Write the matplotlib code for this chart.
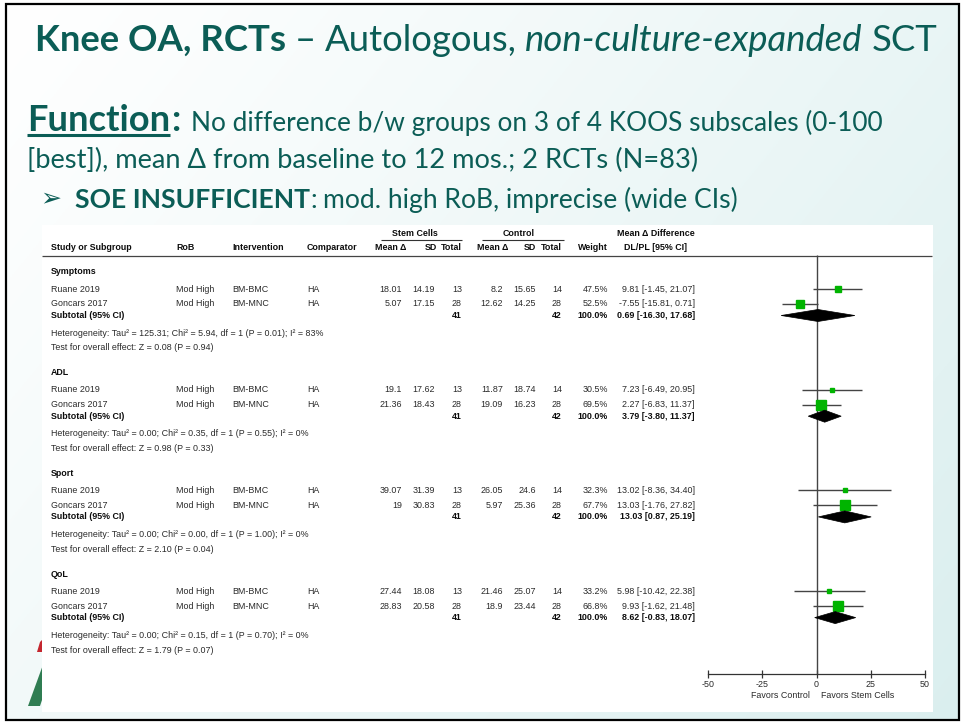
import numpy as np
import matplotlib
matplotlib.use("Agg")
import matplotlib.pyplot as plt
from matplotlib.patches import Polygon, Rectangle

plt.rcParams['axes.unicode_minus'] = False

W, H = 966, 723

# ---------------- data ----------------
subgroups = ["Symptoms", "ADL", "Sport", "QoL"]
studies = ["Ruane 2019", "Goncars 2017"]
rob = ["Mod High", "Mod High"]
intervention = ["BM-BMC", "BM-MNC"]
comparator = ["HA", "HA"]

sc_mean = [[18.01, 5.07], [19.1, 21.36], [39.07, 19], [27.44, 28.83]]
sc_sd = [[14.19, 17.15], [17.62, 18.43], [31.39, 30.83], [18.08, 20.58]]
sc_n = [13, 28]
ct_mean = [[8.2, 12.62], [11.87, 19.09], [26.05, 5.97], [21.46, 18.9]]
ct_sd = [[15.65, 14.25], [18.74, 16.23], [24.6, 25.36], [25.07, 23.44]]
ct_n = [14, 28]
weights = [[47.5, 52.5], [30.5, 69.5], [32.3, 67.7], [33.2, 66.8]]
md = [[9.81, -7.55], [7.23, 2.27], [13.02, 13.03], [5.98, 9.93]]
md_lo = [[-1.45, -15.81], [-6.49, -6.83], [-8.36, -1.76], [-10.42, -1.62]]
md_hi = [[21.07, 0.71], [20.95, 11.37], [34.40, 27.82], [22.38, 21.48]]
sub_md = [0.69, 3.79, 13.03, 8.62]
sub_lo = [-16.30, -3.80, 0.87, -0.83]
sub_hi = [17.68, 11.37, 25.19, 18.07]
tau2 = ["125.31", "0.00", "0.00", "0.00"]
chi2 = ["5.94", "0.35", "0.00", "0.15"]
p_het = ["0.01", "0.55", "1.00", "0.70"]
i2 = ["83", "0", "0", "0"]
z_val = ["0.08", "0.98", "2.10", "1.79"]
p_z = ["0.94", "0.33", "0.04", "0.07"]
xticks = [-50, -25, 0, 25, 50]

TEAL = '#0b5d56'

fig = plt.figure(figsize=(W / 100, H / 100), dpi=100, facecolor='white')
bg = fig.add_axes([0, 0, 1, 1])
bg.set_xlim(0, W)
bg.set_ylim(H, 0)
bg.axis('off')

# slide background gradient
yy, xx = np.mgrid[0:H:3, 0:W:3]
t = np.clip(0.62 * xx / W + 0.38 * yy / H, 0, 1) ** 1.1
c0 = np.array([1.0, 1.0, 1.0])
c1 = np.array([0.855, 0.935, 0.935])
img = c0[None, None, :] * (1 - t[..., None]) + c1[None, None, :] * t[..., None]
bg.imshow(img, extent=[6, 959, 720, 4], zorder=0, aspect='auto')
bg.add_patch(Rectangle((6, 4), 953, 716, fill=False, ec='black', lw=1.6, zorder=5))

# logo fragments
bg.add_patch(Polygon([(28, 706), (40, 706), (44, 694), (44, 662)], closed=True,
                     fc='#2f7d52', ec='none', zorder=1))
bg.add_patch(Polygon([(37, 652), (44, 652), (44, 638), (40, 642)], closed=True,
                     fc='#c4262e', ec='none', zorder=1))

# white panel
bg.add_patch(Rectangle((42, 225), 891, 487, fc='white', ec='none', zorder=2))

renderer = fig.canvas.get_renderer()


def draw_runs(x, y, parts, size, target_w=None, color=TEAL):
    def make(sz):
        objs = []
        cx = x
        gap = 0.24 * sz * 100 / 72
        for txt, kw, g in parts:
            cx += g * gap
            o = bg.text(cx, y, txt, fontsize=sz, color=color, va='baseline', ha='left',
                        zorder=6, **kw)
            bb = o.get_window_extent(renderer=renderer)
            cx += bb.width
            objs.append(o)
        return objs, cx - x
    objs, w = make(size)
    if target_w:
        for o in objs:
            o.remove()
        objs, w = make(size * target_w / w)
    return objs, w


FAM = ['Lato', 'DejaVu Sans']
draw_runs(35, 51, [("Knee OA, RCTs", dict(family=FAM, fontweight='bold'), 0),
                   ("–", dict(family=FAM), 1),
                   ("Autologous,", dict(family=FAM), 1),
                   ("non-culture-expanded", dict(family=FAM, style='italic'), 1),
                   ("SCT", dict(family=FAM), 1)], 24, 905)
objs, wf = draw_runs(27, 131, [("Function", dict(family=FAM, fontweight='bold'), 0)], 30, 143)
draw_runs(27 + wf + 1, 131, [(":", dict(family=FAM, fontweight='bold'), 0)], objs[0].get_fontsize())
bg.hlines(134.5, 27, 27 + wf, color=TEAL, lw=2.2, zorder=6)
draw_runs(191, 131, [("No difference b/w groups on 3 of 4 KOOS subscales (0-100", dict(family=FAM), 0)],
          20, 691)
draw_runs(27, 168, [("[best]), mean Δ from baseline to 12 mos.; 2 RCTs (N=83)", dict(family=FAM), 0)],
          20, 673)
bg.text(40, 198, "➢", fontsize=18, family='DejaVu Sans', color=TEAL, va='center', ha='left', zorder=6)
draw_runs(75, 208, [("SOE INSUFFICIENT", dict(family=FAM, fontweight='bold'), 0),
                    (":", dict(family=FAM), 0),
                    ("mod. high RoB, imprecise (wide CIs)", dict(family=FAM), 1)], 18, 660)

# ---------------- forest table ----------------
TFAM = 'Liberation Sans'
TS = 6.4
REG = '#2a2a2a'
BLD = '#0d0d0d'


def T(x, y, s, ha='left', bold=False):
    bg.text(x, y, s, ha=ha, va='center', family=TFAM, fontsize=TS,
            fontweight='bold' if bold else 'normal', color=BLD if bold else REG, zorder=6)


# headers
T(51, 248, "Study or Subgroup", bold=True)
T(176, 248, "RoB", bold=True)
T(232, 248, "Intervention", bold=True)
T(307, 248, "Comparator", bold=True)
T(415, 233, "Stem Cells", 'center', True)
T(519, 233, "Control", 'center', True)
T(656, 233, "Mean Δ Difference", 'center', True)
T(406, 248, "Mean Δ", 'right', True)
T(437, 248, "SD", 'right', True)
T(462, 248, "Total", 'right', True)
T(508, 248, "Mean Δ", 'right', True)
T(536, 248, "SD", 'right', True)
T(562, 248, "Total", 'right', True)
T(608, 248, "Weight", 'right', True)
T(655, 248, "DL/PL [95% CI]", 'center', True)
bg.hlines(240, 381, 462, color='#333', lw=0.8, zorder=6)
bg.hlines(240, 482, 564, color='#333', lw=0.8, zorder=6)
bg.hlines(255.5, 42, 932, color='#444', lw=0.9, zorder=6)

# forest plot axes
x0p, x1p = 708, 925
ax = fig.add_axes([x0p / W, 1 - 712 / H, (x1p - x0p) / W, (712 - 225) / H])
ax.set_xlim(-50, 50)
ax.set_ylim(712, 225)
ax.patch.set_alpha(0)
for s in ['left', 'right', 'top']:
    ax.spines[s].set_visible(False)
ax.spines['bottom'].set_position(('data', 674))
ax.spines['bottom'].set_color('#333')
ax.spines['bottom'].set_linewidth(0.9)
ax.set_yticks([])
ax.set_xticks(xticks)
ax.set_xticklabels([str(v) for v in xticks])
ax.tick_params(axis='x', direction='inout', length=6, width=0.9, color='#333',
               labelsize=TS, pad=1.2, labelcolor=REG)
for lbl in ax.get_xticklabels():
    lbl.set_family(TFAM)
ax.vlines(0, 255.5, 674, color='#444', lw=1.0, zorder=2)
ax.text(-3.0, 695, "Favors Control", ha='right', va='center', family=TFAM, fontsize=TS, color=REG)
ax.text(2.1, 695, "Favors Stem Cells", ha='left', va='center', family=TFAM, fontsize=TS, color=REG)

for g, name in enumerate(subgroups):
    y0 = 272 + 100.7 * g
    T(51, y0, name, bold=True)
    for i in range(2):
        y = y0 + 17 + 15 * i
        T(51, y, studies[i])
        T(176, y, rob[i])
        T(232, y, intervention[i])
        T(307, y, comparator[i])
        T(402, y, f"{sc_mean[g][i]:g}", 'right')
        T(435, y, f"{sc_sd[g][i]:g}", 'right')
        T(462, y, str(sc_n[i]), 'right')
        T(503, y, f"{ct_mean[g][i]:g}", 'right')
        T(536, y, f"{ct_sd[g][i]:g}", 'right')
        T(562, y, str(ct_n[i]), 'right')
        T(608, y, f"{weights[g][i]:.1f}%", 'right')
        T(695, y, f"{md[g][i]:.2f} [{md_lo[g][i]:.2f}, {md_hi[g][i]:.2f}]", 'right')
        ax.hlines(y, md_lo[g][i], md_hi[g][i], color='#444444', lw=1.0, zorder=3)
        ax.plot(md[g][i], y, 's', ms=0.1037 * weights[g][i], color='#00b400',
                mec='#00b400', zorder=4)
    ys = y0 + 43.5
    T(51, ys, "Subtotal (95% CI)", bold=True)
    T(462, ys, str(sum(sc_n)), 'right', True)
    T(562, ys, str(sum(ct_n)), 'right', True)
    T(608, ys, f"{sum(weights[g]):.1f}%", 'right', True)
    T(695, ys, f"{sub_md[g]:.2f} [{sub_lo[g]:.2f}, {sub_hi[g]:.2f}]", 'right', True)
    ax.add_patch(Polygon([(sub_lo[g], ys), (sub_md[g], ys - 6), (sub_hi[g], ys), (sub_md[g], ys + 6)],
                         closed=True, fc='black', ec='black', lw=0.5, zorder=4))
    T(51, y0 + 61, f"Heterogeneity: Tau² = {tau2[g]}; Chi² = {chi2[g]}, df = 1 (P = {p_het[g]}); I² = {i2[g]}%")
    T(51, y0 + 76, f"Test for overall effect: Z = {z_val[g]} (P = {p_z[g]})")

fig.savefig("out.png", dpi=100, facecolor='white')
